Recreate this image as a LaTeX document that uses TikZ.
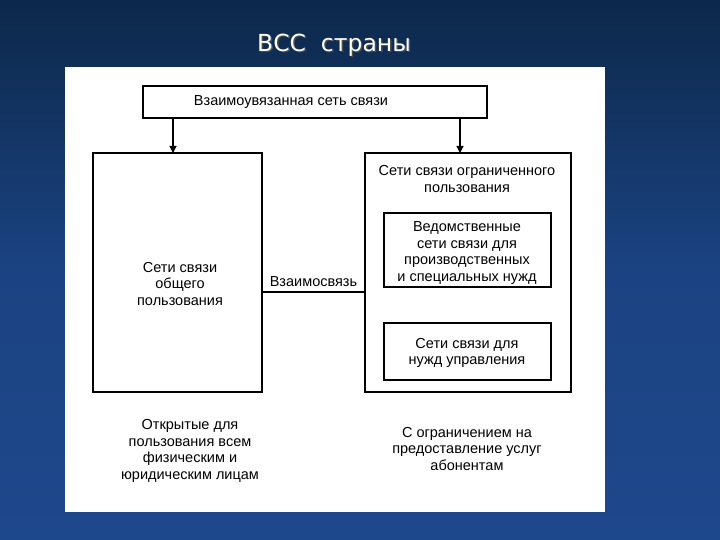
\documentclass[tikz,border=0pt]{standalone}
\usepackage{fontspec}
\setmainfont{Liberation Sans}
\newfontfamily\titlefont{DejaVu Sans}
\usetikzlibrary{arrows.meta}
\definecolor{bgtop}{RGB}{12,40,74}
\definecolor{bgbot}{RGB}{30,72,140}
\tikzset{
  box/.style={draw=black, line width=1.1pt, fill=white},
  inbox/.style={draw=black, line width=1.8pt, fill=white},
  txt/.style={align=center, font=\fontsize{14.5}{16.5}\selectfont, inner sep=0pt},
  arr/.style={draw=black, line width=1.1pt, -{Triangle[length=7pt,width=7pt]}},
  link/.style={draw=black, line width=1.1pt}
}
\begin{document}
\begin{tikzpicture}[x=1pt,y=-1pt]
\useasboundingbox (0,0) rectangle (720,540);
\shade[top color=bgtop, bottom color=bgbot, middle color=bgbot!85!bgtop] (0,0) rectangle (720,540);
\fill[white] (65,67) rectangle (605,512);
% title
\node[text=black!70, font=\titlefont\fontsize{23.5}{26}\selectfont, inner sep=0pt] at (335.5,46.5) {ВСС\ \ страны};
\node[text=white, font=\titlefont\fontsize{23.5}{26}\selectfont, inner sep=0pt] (title) at (334,45) {ВСС\ \ страны};
% boxes
\draw[box] (143,86) rectangle (487,118);
\coordinate (topL) at (173,118);
\coordinate (topR) at (460,118);
\node[txt] (top) at (291,102) {Взаимоувязанная сеть связи};
\draw[box] (93,153) rectangle (262,392);
\node[txt] (pub) at (180,284) {Сети связи\\общего\\пользования};
\coordinate (pubT) at (173,153);
\coordinate (pubR) at (262,292);
\draw[box] (365,153) rectangle (571,392);
\coordinate (limT) at (460,153);
\coordinate (limL) at (365,292);
\node[txt] (lim) at (467,179) {Сети связи ограниченного\\пользования};
\draw[inbox] (384,213) rectangle (551,287);
\node[txt] (ved) at (467,253) {Ведомственные\\сети связи для\\производственных\\и специальных нужд};
\draw[inbox] (384,323) rectangle (551,380);
\node[txt] (upr) at (467,353) {Сети связи для\\нужд управления};
% connectors
\draw[arr] (topL) -- (pubT);
\draw[arr] (topR) -- (limT);
\draw[link] (pubR) -- node[txt, above=5pt] (vz) {Взаимосвязь} (limL);
% bottom texts
\node[txt] (open) at (190,451) {Открытые для\\пользования всем\\физическим и\\юридическим лицам};
\node[txt] (restr) at (467,449) {С ограничением на\\предоставление услуг\\абонентам};
\end{tikzpicture}
\end{document}
